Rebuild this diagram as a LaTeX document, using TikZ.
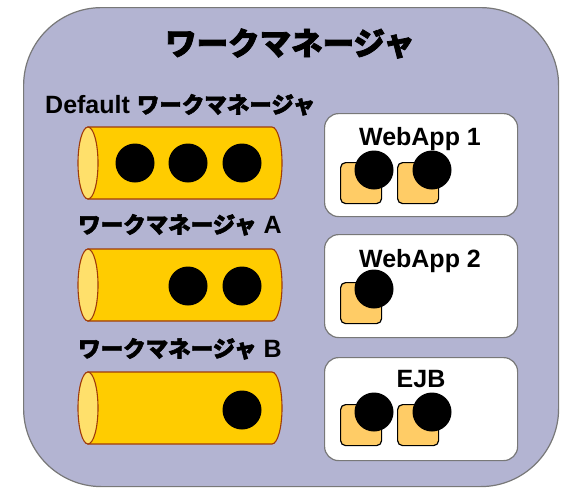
\documentclass[tikz,border=0pt]{standalone}
\usepackage{fontspec}
\setmainfont{Liberation Sans}
\newfontfamily\jp[Scale=0.9, BoldFeatures={FakeBold=2.5}]{Noto Sans CJK JP}
\usetikzlibrary{positioning}
\definecolor{wmback}{RGB}{179,180,210}
\definecolor{wmline}{RGB}{120,120,120}
\definecolor{qbody}{RGB}{255,204,0}
\definecolor{qface}{RGB}{255,224,107}
\definecolor{qline}{RGB}{160,60,10}
\definecolor{workfill}{RGB}{255,204,102}
\begin{document}
\begin{tikzpicture}[x=1pt, y=1pt,
    every node/.style={inner sep=0pt},
    wmtext/.style={font=\fontsize{25}{25}\selectfont\bfseries},
    appbox/.style={draw=wmline, line width=1.2pt, fill=white, rounded corners=14pt,
      minimum width=193pt, minimum height=103pt, anchor=north west},
    work/.style={draw=black, line width=1.2pt, fill=workfill, rounded corners=5pt,
      minimum size=41pt, anchor=north west},
    ball/.style={circle, fill=black, minimum size=39pt},
    qbody/.style={fill=qbody, draw=qline, line width=1.1pt},
    qface/.style={fill=qface, draw=qline, line width=1.1pt}]
  \useasboundingbox (0,0) rectangle (562,-488);
  \node[draw=wmline, line width=1.2pt, fill=wmback, rounded corners=78pt,
    minimum width=535pt, minimum height=479pt, anchor=north west] (wm) at (23,-7) {};
  \node[wmtext, anchor=base] (title) at (290,-55) {\fontsize{35}{35}\selectfont\jp ワークマネージャ};
  % queues
  \foreach \y in {163,285,408} {
    \filldraw[qbody] (88,-\y+36) -- (272,-\y+36)
      arc[start angle=90, end angle=-90, x radius=10pt, y radius=36pt]
      -- (88,-\y-36) -- cycle;
    \filldraw[qface] (88,-\y) ellipse[x radius=10pt, y radius=36pt];
  }
  \node[wmtext, anchor=base west] (qdef) at (45,-113) {Default {\jp ワークマネージャ}};
  \node[wmtext, anchor=base west] (qa) at (78,-233) {{\jp ワークマネージャ} A};
  \node[wmtext, anchor=base west] (qb) at (78,-357) {{\jp ワークマネージャ} B};
  \node[ball] (t1) at (135,-163) {};
  \node[ball] (t2) at (188,-163) {};
  \node[ball] (t3) at (242,-163) {};
  \node[ball] (t4) at (188,-286) {};
  \node[ball] (t5) at (242,-286) {};
  \node[ball] (t6) at (242,-410) {};
  % applications
  \node[appbox] (app1) at (324,-113) {};
  \node[appbox] (app2) at (324,-234) {};
  \node[appbox] (ejb) at (324,-357) {};
  \node[wmtext, anchor=base] (app1t) at (420,-145) {WebApp 1};
  \node[wmtext, anchor=base] (app2t) at (420,-267) {WebApp 2};
  \node[wmtext, anchor=base] (ejbt) at (421,-387) {EJB};
  \node[work] (w1) at (340,-162) {};
  \node[work] (w2) at (397,-162) {};
  \node[work] (w3) at (340,-282) {};
  \node[work] (w4) at (340,-404) {};
  \node[work] (w5) at (397,-404) {};
  \node[ball] (b1) at (374,-170) {};
  \node[ball] (b2) at (432,-170) {};
  \node[ball] (b3) at (374,-289) {};
  \node[ball] (b4) at (374,-412) {};
  \node[ball] (b5) at (432,-412) {};
\end{tikzpicture}
\end{document}
